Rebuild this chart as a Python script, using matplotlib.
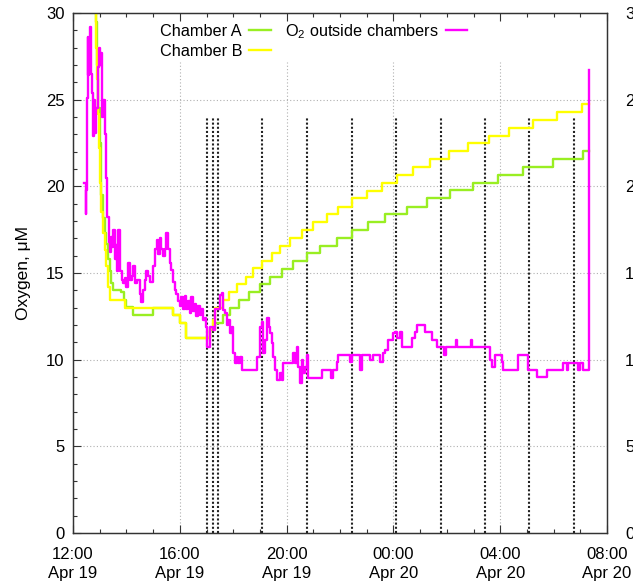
import matplotlib
matplotlib.use("Agg")
import matplotlib.pyplot as plt
import matplotlib.dates as mdates
from matplotlib.lines import Line2D
import pandas as pd

plt.rcParams['font.family'] = ['Liberation Sans', 'DejaVu Sans']
plt.rcParams['mathtext.fontset'] = 'custom'
plt.rcParams['mathtext.rm'] = 'Liberation Sans'
plt.rcParams['mathtext.it'] = 'Liberation Sans'

# ---- data: hours after 12:00 Apr 19, oxygen in uM ----
chamberA_h = [0.80, 0.85, 0.90, 0.95, 1.00, 1.06, 1.12, 1.18, 1.25, 1.31, 1.37, 1.43, 1.50,
              1.80, 1.90, 2.00, 2.25, 3.00, 3.75, 4.00, 4.25, 5.13, 5.32, 5.63, 5.88, 6.23,
              6.60, 7.00, 7.38, 7.81, 8.25, 8.75, 9.25, 9.88, 10.44, 11.06, 11.69, 12.50,
              13.25, 14.12, 14.99, 15.93, 16.87, 17.99, 19.11, 19.33]
chamberA_v = [32.0, 29.5, 27.0, 24.5, 22.5, 19.5, 18.2, 17.3, 16.7, 15.8, 15.1, 14.4, 14.0,
              13.9, 13.44, 13.06, 12.58, 13.0, 12.56, 12.1, 11.27, 11.7, 12.1, 12.58, 13.0, 13.44,
              13.92, 14.37, 14.79, 15.23, 15.70, 16.14, 16.58, 17.04, 17.48, 17.93, 18.39, 18.83,
              19.31, 19.79, 20.21, 20.66, 21.10, 21.56, 22.04, 22.04]

chamberB_h = [0.78, 0.81, 0.86, 0.90, 0.94, 0.98, 1.02, 1.06, 1.12, 1.18, 1.25, 1.31, 1.37,
              1.93, 3.75, 4.00, 4.25, 5.13, 5.25, 5.32, 5.63, 5.85, 6.16, 6.47, 6.74, 7.07,
              7.44, 7.75, 8.13, 8.56, 9.00, 9.50, 9.94, 10.44, 11.00, 11.56, 12.12, 12.75,
              13.37, 14.09, 14.81, 15.58, 16.33, 17.24, 18.12, 19.05, 19.33]
chamberB_v = [32.0, 30.0, 28.0, 26.2, 24.2, 22.2, 20.2, 18.5, 17.3, 16.3, 15.4, 14.2, 13.44,
              13.0, 12.56, 12.1, 11.27, 11.75, 12.3, 12.96, 13.44, 13.92, 14.35, 14.79, 15.27, 15.70,
              16.14, 16.58, 17.04, 17.48, 17.93, 18.39, 18.83, 19.31, 19.73, 20.21, 20.66, 21.10,
              21.58, 22.04, 22.48, 22.93, 23.39, 23.83, 24.27, 24.74, 24.74]

outside_h = [0.43, 0.47, 0.50, 0.53, 0.55, 0.58, 0.61, 0.64, 0.68, 0.72, 0.76, 0.80, 0.84,
             0.88, 0.92, 0.96, 1.00, 1.03, 1.07, 1.10, 1.14, 1.18, 1.25, 1.29, 1.33, 1.36,
             1.39, 1.42, 1.46, 1.51, 1.56, 1.60, 1.66, 1.70, 1.76, 1.82, 1.88, 1.93, 2.00,
             2.07, 2.13, 2.20, 2.26, 2.33, 2.40, 2.50, 2.56, 2.62, 2.68, 2.75, 2.82, 2.89,
             2.99, 3.06, 3.15, 3.20, 3.25, 3.31, 3.37, 3.43, 3.50, 3.56, 3.62, 3.68, 3.75,
             3.81, 3.87, 3.93, 4.00, 4.06, 4.12, 4.18, 4.25, 4.31, 4.37, 4.43, 4.50, 4.56,
             4.62, 4.68, 4.74, 4.81, 4.87, 4.93, 4.99, 5.03, 5.13, 5.26, 5.32, 5.51, 5.57,
             5.63, 5.69, 5.76, 5.82, 5.88, 5.94, 6.00, 6.07, 6.13, 6.19, 6.25, 6.32, 6.88,
             7.00, 7.07, 7.13, 7.19, 7.28, 7.33, 7.38, 7.44, 7.50, 7.57, 7.63, 7.75, 7.82,
             7.88, 8.25, 8.31, 8.38, 8.44, 8.50, 8.57, 8.63, 8.69, 8.75, 8.81, 9.31, 9.66,
             9.72, 9.88, 9.94, 10.37, 10.44, 10.75, 10.81, 11.12, 11.25, 11.50, 11.62, 11.69,
             11.81, 11.94, 12.00, 12.06, 12.15, 12.25, 12.31, 12.62, 12.69, 12.81, 12.87, 13.12,
             13.18, 13.37, 13.43, 13.62, 13.90, 13.96, 14.35, 14.40, 14.90, 14.96, 15.62, 15.68,
             15.81, 16.06, 16.12, 16.68, 17.05, 17.37, 17.74, 18.36, 18.49, 18.55, 18.93, 18.98,
             19.11, 19.34]
outside_v = [20.2, 18.4, 19.8, 25.1, 28.6, 26.4, 28.3, 29.2, 26.5, 25.4, 22.9, 25.0, 23.1,
             24.5, 26.9, 28.0, 27.0, 27.7, 25.8, 24.0, 25.0, 23.0, 20.5, 18.25, 17.1, 16.8,
             16.2, 17.1, 16.5, 17.5, 15.8, 16.6, 15.1, 17.5, 15.1, 14.6, 14.4, 14.7, 14.2,
             15.6, 14.6, 14.8, 15.4, 14.4, 14.6, 13.8, 13.3, 14.0, 14.6, 15.1, 14.8, 14.5,
             15.4, 16.4, 16.9, 16.1, 17.0, 16.4, 16.0, 16.4, 17.3, 16.4, 15.6, 15.2, 14.5,
             14.0, 13.8, 13.4, 13.1, 13.6, 12.9, 13.7, 12.9, 13.4, 12.7, 13.6, 12.8, 13.2,
             12.5, 13.1, 12.6, 12.9, 12.3, 12.4, 11.9, 10.75, 11.9, 11.7, 12.9, 13.73, 13.83,
             12.87, 12.68, 12.0, 12.29, 11.52, 11.9, 10.37, 9.79, 10.17, 9.79, 10.17, 9.41, 10.17,
             11.9, 12.19, 10.37, 11.14, 12.39, 11.9, 11.52, 10.94, 10.17, 9.41, 8.83, 9.21, 8.83,
             9.79, 10.37, 9.79, 10.75, 9.6, 8.65, 9.98, 9.21, 9.6, 10.27, 8.93, 9.41, 8.93,
             9.41, 9.89, 10.27, 9.89, 10.27, 9.41, 10.27, 9.98, 10.27, 9.89, 10.37, 10.56,
             11.14, 11.14, 11.52, 11.62, 11.23, 11.62, 10.75, 10.75, 11.23, 11.62, 12.0, 12.0,
             11.62, 11.62, 11.14, 10.75, 10.27, 10.75, 11.14, 10.75, 11.14, 10.75, 9.98, 9.6,
             10.27, 9.89, 9.41, 10.27, 9.41, 9.02, 9.41, 9.79, 9.41, 9.79, 9.41, 9.79,
             9.41, 26.7]

event_h = [5.03, 5.26, 5.44, 7.09, 8.77, 10.44, 12.11, 13.78, 15.43, 17.09, 18.76]
event_top = 24.0

series_labels = ["Chamber A", "Chamber B", "O$_2$ outside chambers"]
series_colors = ["#99ee22", "#ffff00", "#ff00ff"]

base = pd.Timestamp("2014-04-19 12:00")
def to_t(hours):
    return [base + pd.Timedelta(hours=h) for h in hours]

fig = plt.figure(figsize=(6.33, 5.83), dpi=100)
ax = fig.add_axes([73/633, 50/583, 534/633, 520/583])

xmin, xmax = base, base + pd.Timedelta(hours=20)
ax.set_xlim(xmin, xmax)
ax.set_ylim(0, 30)

# grid (vertical grid lines stop below the key)
for y in [5, 10, 15, 20, 25]:
    ax.axhline(y, color="#b0b0b0", lw=0.8, ls=(0, (1, 2)), zorder=0)
for h in [4, 8, 12, 16]:
    ax.plot(to_t([h, h]), [0, 27.2], color="#b0b0b0", lw=0.8, ls=(0, (1, 2)), zorder=0)

for h in event_h:
    ax.plot(to_t([h, h]), [0, event_top], color="#222222", lw=1.5, ls=(0, (1, 1)), zorder=1)

lw = 1.7
lA, = ax.step(to_t(chamberA_h), chamberA_v, where="post", color=series_colors[0], lw=lw, zorder=2)
lB, = ax.step(to_t(chamberB_h), chamberB_v, where="post", color=series_colors[1], lw=lw, zorder=3)
lO, = ax.step(to_t(outside_h), outside_v, where="post", color=series_colors[2], lw=lw, zorder=4)

ax.xaxis.set_major_locator(mdates.HourLocator(byhour=[0, 4, 8, 12, 16, 20]))
ax.xaxis.set_minor_locator(mdates.HourLocator())
ax.xaxis.set_major_formatter(mdates.DateFormatter("%H:%M\n%b %d"))
ax.set_yticks([0, 5, 10, 15, 20, 25, 30])
ax.set_yticks(range(0, 31), minor=True)

fs = 12
ax.tick_params(which="both", direction="in", top=True, right=True, labelsize=fs, color="#333333")
ax.tick_params(which="major", length=5.5, width=0.8)
ax.tick_params(which="minor", length=3.2, width=0.8)
ax.tick_params(axis="x", which="major", pad=10)
ax.tick_params(axis="y", which="major", pad=6)
for t in ax.get_xticklabels():
    t.set_ha("center")
    t.set_linespacing(1.35)

ax2 = ax.twinx()
ax2.set_ylim(0, 30)
ax2.set_yticks([0, 5, 10, 15, 20, 25, 30])
ax2.tick_params(axis="y", direction="in", length=0, labelsize=fs, pad=13)
for a in (ax, ax2):
    for s in a.spines.values():
        s.set_color("#333333")
        s.set_linewidth(0.9)

ax.set_ylabel("Oxygen, \u03bcM", fontsize=12.5, labelpad=11)

handles = [Line2D([], [], color=c, lw=lw) for c in series_colors]
leg = ax.legend(handles, series_labels, ncol=2, markerfirst=False, frameon=False,
                loc="upper left", bbox_to_anchor=(0.147, 0.998), borderpad=0,
                fontsize=11.7, handlelength=1.3, handletextpad=0.45,
                columnspacing=0.9, labelspacing=0.3)

fig.savefig("out.png", dpi=100)
